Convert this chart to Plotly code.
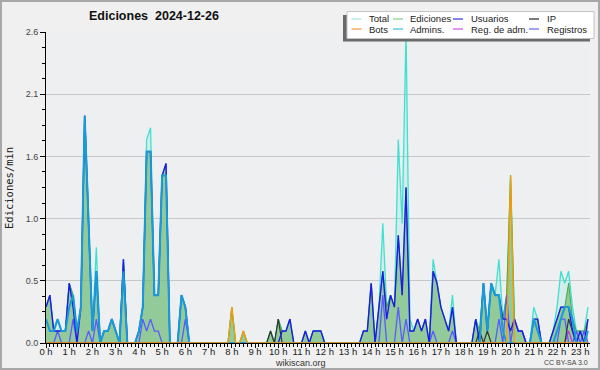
import plotly.graph_objects as go

# 10-minute slots from 00:00 to 23:20 (hours)
hours = [i / 6 for i in range(141)]
hour_ticks = list(range(24))
hour_labels = [f"{h} h" for h in hour_ticks]
y_ticks = [0, 0.52, 1.04, 1.56, 2.08, 2.6]
y_labels = ["0.0", "0.5", "1.0", "1.6", "2.1", "2.6"]

total = [
    .3, .4, .1, .2, .1, .1,  .5, .4, .1, .3, 1.9, 1.1,  .1, .8, 0, .1, .1, .2,
    .1, 0, .7, 0, 0, 0,  .1, .3, 1.7, 1.8, .4, .4,  1.4, 1.4, 0, 0, 0, .4,
    .3, 0, 0, 0, 0, 0,  0, 0, 0, 0, 0, 0,  .3, 0, 0, .1, 0, 0,
    0, 0, 0, 0, .1, 0,  .2, .1, .1, .2, 0, 0,  0, .1, 0, .1, .1, .1,
    0, 0, 0, 0, 0, 0,  0, 0, 0, 0, .1, .1,  .5, 0, .3, 1.0, .3, .4,
    .3, 1.7, 1.0, 2.6, .2, .1,  .2, .1, .2, 0, .7, .5,  .3, .2, .1, .4, 0, 0,
    0, 0, 0, .2, .1, .5,  .1, .5, .4, .7, .2, .4,  1.4, .2, .1, .1, 0, 0,
    .3, .2, 0, 0, 0, .1,  .3, .6, .5, .6, .3, .1,  .1, .1, .3,
]
ediciones = [
    .3, .4, .1, .1, .1, .1,  .5, .4, .1, .3, 1.9, 1.0,  .1, .6, 0, .1, .1, .2,
    .1, 0, .7, 0, 0, 0,  .1, .3, 1.6, 1.6, .4, .4,  1.4, 1.5, 0, 0, 0, .4,
    .3, 0, 0, 0, 0, 0,  0, 0, 0, 0, 0, 0,  .3, 0, 0, .1, 0, 0,
    0, 0, 0, 0, .1, 0,  .2, .1, .1, .2, 0, 0,  0, .1, 0, .1, .1, .1,
    0, 0, 0, 0, 0, 0,  0, 0, 0, 0, .1, .1,  .5, 0, .3, .6, .3, .4,
    .3, .9, .4, 1.3, .1, .1,  .2, .1, .2, 0, .6, .5,  .3, .2, .1, .3, 0, 0,
    0, 0, 0, .2, .1, .5,  .1, .5, .4, .4, .2, .4,  1.4, .2, .1, .1, 0, 0,
    .2, .2, 0, 0, 0, .1,  .2, .3, .3, .5, .2, .1,  .1, .1, .2,
]
usuarios = [
    .3, .4, .1, .1, .1, .1,  .5, .3, 0, .3, 1.9, 1.0,  .1, .6, 0, .1, .1, .2,
    .1, 0, .7, 0, 0, 0,  .1, .3, 1.6, 1.6, .4, .4,  1.4, 1.5, 0, 0, 0, .4,
    .3, 0, 0, 0, 0, 0,  0, 0, 0, 0, 0, 0,  0, 0, 0, 0, 0, 0,
    0, 0, 0, 0, 0, 0,  0, .1, .1, .2, 0, 0,  0, .1, 0, .1, .1, .1,
    0, 0, 0, 0, 0, 0,  0, 0, 0, 0, .1, .1,  .5, 0, .3, .6, .2, .4,
    .3, .9, .4, 1.3, .1, .1,  .2, .1, .2, 0, .6, .5,  .3, .2, .1, .3, 0, 0,
    0, 0, 0, .2, 0, .5,  .1, .5, .4, .4, .2, .2,  .1, .2, .1, .1, 0, 0,
    .2, .2, 0, 0, 0, .1,  .2, .3, .3, .3, .1, 0,  .1, 0, .2,
]
admins = [
    .2, .1, .1, .2, .1, .1,  .3, .4, .1, .3, 1.9, 1.0,  .1, .6, 0, .1, .1, .2,
    .1, 0, .6, 0, 0, 0,  .1, .3, 1.6, 1.6, .4, .4,  1.4, 1.4, 0, 0, 0, .4,
    .3, 0, 0, 0, 0, 0,  0, 0, 0, 0, 0, 0,  0, 0, 0, 0, 0, 0,
    0, 0, 0, 0, 0, 0,  0, 0, 0, 0, 0, 0,  0, 0, 0, 0, 0, 0,
    0, 0, 0, 0, 0, 0,  0, 0, 0, 0, 0, 0,  0, 0, 0, 0, 0, 0,
    0, 0, 0, 0, 0, 0,  0, 0, 0, 0, 0, 0,  0, 0, 0, 0, 0, 0,
    0, 0, 0, 0, 0, .5,  .1, .5, .4, .4, .1, 0,  0, 0, 0, 0, 0, 0,
    .2, .1, 0, 0, 0, 0,  .1, .2, .3, .3, .2, 0,  0, 0, .1,
]
registros = [
    0, 0, 0, .1, 0, 0,  0, .2, 0, 0, 0, .1,  0, .2, 0, 0, 0, 0,
    0, 0, 0, 0, 0, 0,  0, .2, .1, .2, .1, .1,  0, 0, 0, 0, 0, 0,
    .2, 0, 0, 0, 0, 0,  0, 0, 0, 0, 0, 0,  0, 0, 0, 0, 0, 0,
    0, 0, 0, 0, 0, 0,  0, 0, 0, 0, 0, 0,  0, 0, 0, 0, 0, 0,
    0, 0, 0, 0, 0, 0,  0, 0, 0, 0, 0, 0,  0, 0, 0, .4, 0, 0,
    0, .3, 0, .2, 0, 0,  0, 0, 0, 0, .1, 0,  0, 0, 0, .1, 0, 0,
    0, 0, 0, 0, 0, 0,  0, 0, 0, .2, 0, .4,  0, .2, .1, .1, 0, 0,
    0, 0, 0, 0, 0, 0,  0, .2, .2, 0, 0, .1,  0, .1, 0,
]
ip = [0] * 141
ip_points = {58: .1, 60: .2, 112: .1, 114: .1, 135: .2, 136: .1}
bots_points = {48: .3, 51: .1, 120: 1.4}
reg_adm_points = {135: .1}
bots = [0] * 141
reg_adm = [0] * 141
for k, v in ip_points.items():
    ip[k] = v
for k, v in bots_points.items():
    bots[k] = v
for k, v in reg_adm_points.items():
    reg_adm[k] = v

C_TOTAL = "#40e0d0"
C_EDIC = "#44aa44"
C_USU = "#1c1ce8"
C_IP = "#333333"
C_BOTS = "#ff9900"
C_ADM = "#1a9ad6"
C_REGADM = "#cc33dd"
C_REG = "#5a5aff"

fig = go.Figure()
fig.add_trace(go.Scatter(x=hours, y=total, mode="lines", fill="tozeroy",
                         fillcolor="rgba(64,224,208,0.15)",
                         line=dict(color=C_TOTAL, width=1.3), name="Total"))
fig.add_trace(go.Scatter(x=hours, y=ediciones, mode="lines", fill="tozeroy",
                         fillcolor="rgba(110,185,110,0.65)",
                         line=dict(color=C_EDIC, width=1), name="Ediciones"))
fig.add_trace(go.Scatter(x=hours, y=reg_adm, mode="lines",
                         line=dict(color=C_REGADM, width=1.2), name="Reg. de adm."))
fig.add_trace(go.Scatter(x=hours, y=registros, mode="lines",
                         line=dict(color=C_REG, width=1.3), name="Registros"))
fig.add_trace(go.Scatter(x=hours, y=ip, mode="lines",
                         line=dict(color=C_IP, width=1.2), name="IP"))
fig.add_trace(go.Scatter(x=hours, y=usuarios, mode="lines",
                         line=dict(color=C_USU, width=1.4), name="Usuarios"))
fig.add_trace(go.Scatter(x=hours, y=admins, mode="lines",
                         line=dict(color=C_ADM, width=2), name="Admins."))
fig.add_trace(go.Scatter(x=hours, y=bots, mode="lines",
                         line=dict(color=C_BOTS, width=1.3), name="Bots"))

L, R, T, B = 46, 10, 32, 27
W, H = 600, 370
PW, PH = W - L - R, H - T - B


def px(x):
    return (x - L) / PW


def py(y):
    return (H - B - y) / PH


shapes = []
annotations = []

# outer border
shapes.append(dict(type="rect", xref="paper", yref="paper",
                   x0=px(1), x1=px(W - 1), y0=py(H - 1), y1=py(1),
                   line=dict(color="#a8a8a8", width=2), fillcolor="rgba(0,0,0,0)"))

# legend box with shadow
shapes.append(dict(type="rect", xref="paper", yref="paper",
                   x0=px(343), x1=px(590), y0=py(41.5), y1=py(15),
                   line=dict(width=0), fillcolor="#6a6a6a"))
shapes.append(dict(type="rect", xref="paper", yref="paper",
                   x0=px(347), x1=px(594), y0=py(38.5), y1=py(11.5),
                   line=dict(color="#c4c4c4", width=1), fillcolor="#ffffff"))

legend_items = [
    ("Total", "#a8e8e0", 351.5, 366.5, 19), ("Ediciones", "#90d090", 393, 408, 19),
    ("Usuarios", "#4040e0", 453, 469, 19), ("IP", "#333333", 529, 545, 19),
    ("Bots", "#f4a040", 351.5, 366.5, 29), ("Admins.", "#40c8e0", 393, 408, 29),
    ("Reg. de adm.", "#d060e0", 453, 469, 29), ("Registros", "#7070f0", 529, 545, 29),
]
for name, col, sx, tx, yy in legend_items:
    shapes.append(dict(type="line", xref="paper", yref="paper",
                       x0=px(sx), x1=px(sx + 10), y0=py(yy), y1=py(yy),
                       line=dict(color=col, width=1.3)))
    annotations.append(dict(text=name, xref="paper", yref="paper", x=px(tx), y=py(yy),
                            xanchor="left", yanchor="middle", showarrow=False,
                            font=dict(family="Liberation Sans", size=9.5, color="#222")))

annotations.append(dict(text="<b>Ediciones\u00a0\u00a02024-12-26</b>", xref="paper", yref="paper",
                        x=px(154), y=py(16.5), xanchor="center", yanchor="middle",
                        showarrow=False,
                        font=dict(family="Liberation Sans", size=12.5, color="#111")))
annotations.append(dict(text="Ediciones/min", xref="paper", yref="paper",
                        x=px(9), y=py(188), xanchor="center", yanchor="middle",
                        textangle=-90, showarrow=False,
                        font=dict(family="DejaVu Sans Mono", size=10.5, color="#222")))
annotations.append(dict(text="wikiscan.org", xref="paper", yref="paper",
                        x=px(300.5), y=py(363), xanchor="center", yanchor="middle",
                        showarrow=False,
                        font=dict(family="Liberation Sans", size=9, color="#333")))
annotations.append(dict(text="CC BY-SA 3.0", xref="paper", yref="paper",
                        x=px(590), y=py(362.5), xanchor="right", yanchor="middle",
                        showarrow=False,
                        font=dict(family="Liberation Sans", size=7, color="#444")))

fig.update_layout(
    width=W, height=H,
    margin=dict(l=L, r=R, t=T, b=B, pad=0),
    paper_bgcolor="#f0f0f0",
    plot_bgcolor="#eeeff1",
    showlegend=False,
    shapes=shapes,
    annotations=annotations,
    xaxis=dict(
        range=[0, 23.42], tickmode="array", tickvals=hour_ticks, ticktext=hour_labels,
        showgrid=False, zeroline=False, showline=True, linecolor="#000", linewidth=1,
        ticks="outside", ticklen=4, tickcolor="#000", tickwidth=1,
        ticklabelstandoff=-4,
        tickfont=dict(family="Liberation Sans", size=9.5, color="#222"),
        minor=dict(dtick=1 / 6, tick0=0, ticks="outside", ticklen=3,
                   tickcolor="#000", showgrid=False),
        fixedrange=True,
    ),
    yaxis=dict(
        range=[0, 2.6], tickmode="array", tickvals=y_ticks, ticktext=y_labels,
        showgrid=True, gridcolor="#c8c8c8", gridwidth=1, zeroline=False,
        showline=True, linecolor="#000", linewidth=1,
        ticks="outside", ticklen=5, tickcolor="#000", tickwidth=1,
        tickfont=dict(family="Liberation Sans", size=9, color="#444"),
        minor=dict(dtick=0.13, tick0=0, ticks="outside", ticklen=3,
                   tickcolor="#000", showgrid=False),
        fixedrange=True,
    ),
)

fig.write_html("out.html",
               config={"displayModeBar": False},
               post_script="document.body.style.margin='0';document.body.style.padding='0';")
